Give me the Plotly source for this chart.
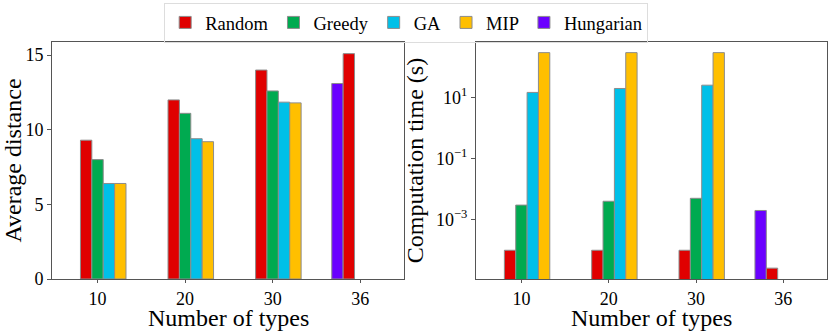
import plotly.graph_objects as go
from plotly.subplots import make_subplots

categories = ["10", "20", "30", "36"]
methods = ["Hungarian", "Random", "Greedy", "GA", "MIP"]
colors = {"Random": "#e00000", "Greedy": "#00aa50", "GA": "#00c0e8",
          "MIP": "#ffbf00", "Hungarian": "#6a00ff"}
legend_rank = {"Random": 1, "Greedy": 2, "GA": 3, "MIP": 4, "Hungarian": 5}

# average distance per method (None = not run)
distance = {
    "Hungarian": [None, None, None, 13.1],
    "Random": [9.3, 12.0, 14.0, 15.1],
    "Greedy": [8.0, 11.1, 12.6, None],
    "GA": [6.4, 9.4, 11.85, None],
    "MIP": [6.4, 9.2, 11.8, None],
}

# computation time in seconds
comp_time = {
    "Hungarian": [None, None, None, 0.002],
    "Random": [0.0001, 0.0001, 0.0001, 0.000026],
    "Greedy": [0.003, 0.004, 0.005, None],
    "GA": [14.5, 19.5, 25.0, None],
    "MIP": [290, 290, 290, None],
}

font = "Liberation Serif, Times New Roman, serif"

fig = make_subplots(rows=1, cols=2)
for m in methods:
    fig.add_trace(go.Bar(x=categories, y=distance[m], name=m, marker_color=colors[m],
                         marker_line={"color": "#8c8c8c", "width": 1},
                         legendrank=legend_rank[m]), row=1, col=1)
    fig.add_trace(go.Bar(x=categories, y=comp_time[m], name=m, marker_color=colors[m],
                         marker_line={"color": "#8c8c8c", "width": 1},
                         showlegend=False), row=1, col=2)

axis_style = dict(showline=True, linecolor="#555", linewidth=1, mirror=True,
                  ticks="outside", ticklen=4, tickcolor="#555", showgrid=False,
                  zeroline=False, tickfont={"family": font, "size": 18}, automargin=False)
title_font = {"family": font, "size": 24}

fig.update_xaxes(**axis_style, range=[-0.52, 3.5])
fig.update_xaxes(ticklen=3)
fig.update_xaxes(domain=[0, 0.4542], row=1, col=1)
fig.update_xaxes(domain=[0.5471, 1.0], row=1, col=2)
fig.update_yaxes(**axis_style)
fig.update_yaxes(range=[0, 15.88], tickvals=[0, 5, 10, 15], title_text="Average distance",
                 title_font=title_font, title_standoff=7, row=1, col=1)
fig.update_yaxes(type="log", range=[-4.94, 2.81], tickvals=[10, 0.1, 0.001],
                 ticktext=["10<sup>1</sup>", "10<sup>\u22121</sup>", "10<sup>\u22123</sup>"],
                 title_text="Computation time (s)", title_font=title_font,
                 title_standoff=5, row=1, col=2)

# x-axis titles as annotations, so they sit close under the tick labels
for xc in [0.2271, 0.7735]:
    fig.add_annotation(text="Number of types", x=xc, y=-0.165, xref="paper", yref="paper",
                       xanchor="center", yanchor="middle", showarrow=False, font=title_font)

fig.update_layout(
    barmode="group", bargap=0.35, bargroupgap=0,
    width=830, height=331,
    margin={"l": 52, "r": 3, "t": 39, "b": 52},
    plot_bgcolor="white", paper_bgcolor="white",
    font={"family": font, "color": "black", "size": 18},
    legend={"orientation": "h", "x": 0.457, "xanchor": "center", "y": 1.165, "yanchor": "top",
            "bordercolor": "#dddddd", "borderwidth": 1, "bgcolor": "rgba(255,255,255,0)",
            "font": {"family": font, "size": 18.5}, "tracegroupgap": 0},
)

fig.write_html("out.html", config={"displayModeBar": False},
               post_script="document.body.style.margin='0';")
